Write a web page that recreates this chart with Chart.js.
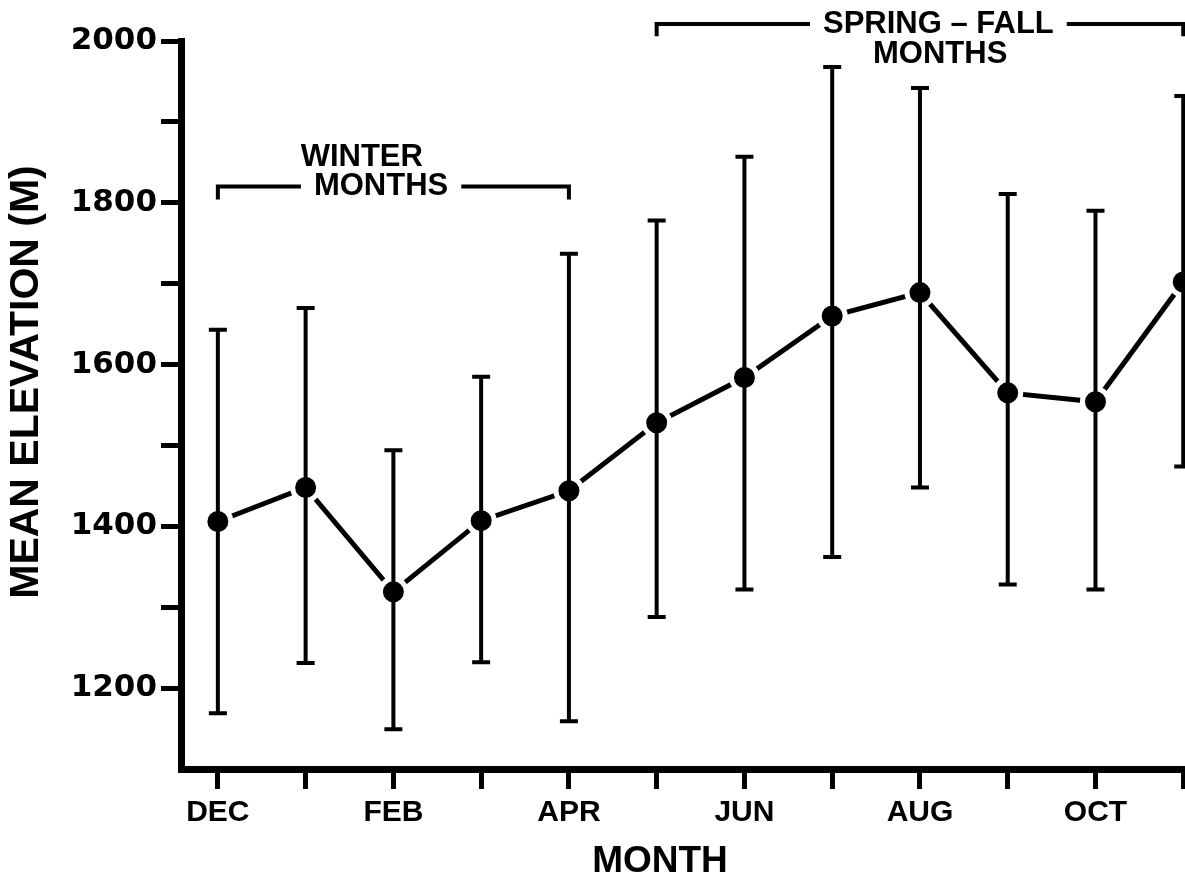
<!DOCTYPE html>
<html>
<head>
<meta charset="utf-8">
<script src="https://cdn.jsdelivr.net/npm/chart.js@4.4.1/dist/chart.umd.min.js"></script>
<style>
  html, body { margin: 0; padding: 0; background: #fff; }
</style>
</head>
<body>
<canvas id="chart" width="1185" height="882"></canvas>
<script>
// --- Data ---
const months = ['DEC', 'JAN', 'FEB', 'MAR', 'APR', 'MAY', 'JUN', 'JUL', 'AUG', 'SEP', 'OCT', 'NOV'];
const meanElev = [1406, 1448, 1319, 1407, 1444, 1528, 1584, 1660, 1689, 1565, 1554, 1702];
const upperElev = [1643, 1670, 1494, 1585, 1737, 1778, 1857, 1968, 1942, 1811, 1790, 1932];
const lowerElev = [1169, 1231, 1149, 1232, 1159, 1288, 1322, 1362, 1448, 1328, 1322, 1474];
const yTicks = [1200, 1300, 1400, 1500, 1600, 1700, 1800, 1900, 2000];
const yLabelled = [1200, 1400, 1600, 1800, 2000];

// --- Season brackets ---
const brackets = [
  { from: 0, to: 4, lineY: 1820, dropTo: 1804, title: 'WINTER', sub: 'MONTHS', titleAt: [1.64, 1856], subAt: [1.86, 1820], gapOn: 'sub' },
  { from: 5, to: 11, lineY: 2021, dropTo: 2006, title: 'SPRING – FALL', sub: 'MONTHS', titleAt: [8.21, 2021], subAt: [8.23, 1983], gapOn: 'title' }
];

const LABEL_FONT = 'bold 31px "Liberation Sans", Arial, sans-serif';

const errorBars = {
  id: 'errorBars',
  afterDatasetsDraw(chart) {
    const { ctx, scales: { x, y } } = chart;
    ctx.save();
    ctx.strokeStyle = '#000';
    ctx.lineWidth = 4;
    months.forEach((m, i) => {
      const px = x.getPixelForValue(i);
      const top = y.getPixelForValue(upperElev[i]);
      const bot = y.getPixelForValue(lowerElev[i]);
      ctx.beginPath();
      ctx.moveTo(px, top); ctx.lineTo(px, bot);
      ctx.moveTo(px - 9, top); ctx.lineTo(px + 9, top);
      ctx.moveTo(px - 9, bot); ctx.lineTo(px + 9, bot);
      ctx.stroke();
    });
    ctx.restore();
  }
};

const annotations = {
  id: 'annotations',
  afterDraw(chart) {
    const { ctx, scales: { x, y } } = chart;
    ctx.save();
    ctx.fillStyle = '#000';
    ctx.strokeStyle = '#000';
    ctx.lineWidth = 4;
    ctx.font = LABEL_FONT;
    ctx.textAlign = 'center';
    ctx.textBaseline = 'middle';

    brackets.forEach(b => {
      const x1 = x.getPixelForValue(b.from);
      const x2 = x.getPixelForValue(b.to);
      const ly = y.getPixelForValue(b.lineY);
      const dy = y.getPixelForValue(b.dropTo);
      const gapText = b.gapOn === 'sub' ? b.sub : b.title;
      const gapPos = b.gapOn === 'sub' ? b.subAt : b.titleAt;
      const gx = x.getPixelForValue(gapPos[0]);
      const half = ctx.measureText(gapText).width / 2 + 13;

      ctx.beginPath();
      ctx.moveTo(x1, dy); ctx.lineTo(x1, ly); ctx.lineTo(gx - half, ly);
      ctx.moveTo(gx + half, ly); ctx.lineTo(x2, ly); ctx.lineTo(x2, dy);
      ctx.stroke();

      ctx.fillText(b.title, x.getPixelForValue(b.titleAt[0]), y.getPixelForValue(b.titleAt[1]));
      ctx.fillText(b.sub, x.getPixelForValue(b.subAt[0]), y.getPixelForValue(b.subAt[1]));
    });

    // axis titles
    ctx.font = 'bold 37px "Liberation Sans", Arial, sans-serif';
    ctx.fillText('MONTH', 660, 862);
    ctx.translate(27, 382);
    ctx.rotate(-Math.PI / 2);
    ctx.font = 'bold 41px "Liberation Sans", Arial, sans-serif';
    ctx.fillText('MEAN ELEVATION (M)', 0, 0);
    ctx.restore();
  }
};

const ctx = document.getElementById('chart').getContext('2d');
new Chart(ctx, {
  type: 'line',
  data: {
    datasets: [{
      data: months.map((m, i) => ({ x: i, y: meanElev[i] })),
      borderColor: '#000',
      borderWidth: 5,
      backgroundColor: '#000',
      pointRadius: 13,
      pointBorderWidth: 5,
      pointBorderColor: '#fff',
      pointBackgroundColor: '#000',
      tension: 0,
      fill: false
    }]
  },
  options: {
    responsive: false,
    animation: false,
    layout: { autoPadding: false, padding: { top: 41, left: 0, right: 0, bottom: 0 } },
    plugins: { legend: { display: false }, tooltip: { enabled: false } },
    scales: {
      x: {
        type: 'linear',
        min: -0.42,
        max: 11.02,
        afterBuildTicks: scale => { scale.ticks = months.map((m, i) => ({ value: i })); },
        afterFit: scale => { scale.height = 113; scale.paddingLeft = 0; scale.paddingRight = 0; },
        border: { display: true, color: '#000', width: 7 },
        grid: { drawOnChartArea: false, drawTicks: true, tickLength: 20, tickWidth: 5, lineWidth: 5, color: '#000', tickColor: '#000' },
        ticks: {
          autoSkip: false,
          maxRotation: 0,
          padding: 6,
          color: '#000',
          font: { family: '"Liberation Sans", Arial', size: 30, weight: 'bold' },
          callback: v => (v % 2 === 0 ? months[v] : '')
        }
      },
      y: {
        min: 1100,
        max: 2000,
        afterBuildTicks: scale => { scale.ticks = yTicks.map(v => ({ value: v })); },
        afterFit: scale => { scale.width = 181; },
        border: { display: true, color: '#000', width: 7 },
        grid: { drawOnChartArea: false, drawTicks: true, tickLength: 20, tickWidth: 5, lineWidth: 5, color: '#000', tickColor: '#000' },
        ticks: {
          padding: 4,
          color: '#000',
          font: { family: '"DejaVu Sans", sans-serif', size: 31, weight: 'bold' },
          callback: v => (yLabelled.includes(v) ? String(v) : '')
        }
      }
    }
  },
  plugins: [errorBars, annotations]
});
</script>
</body>
</html>
